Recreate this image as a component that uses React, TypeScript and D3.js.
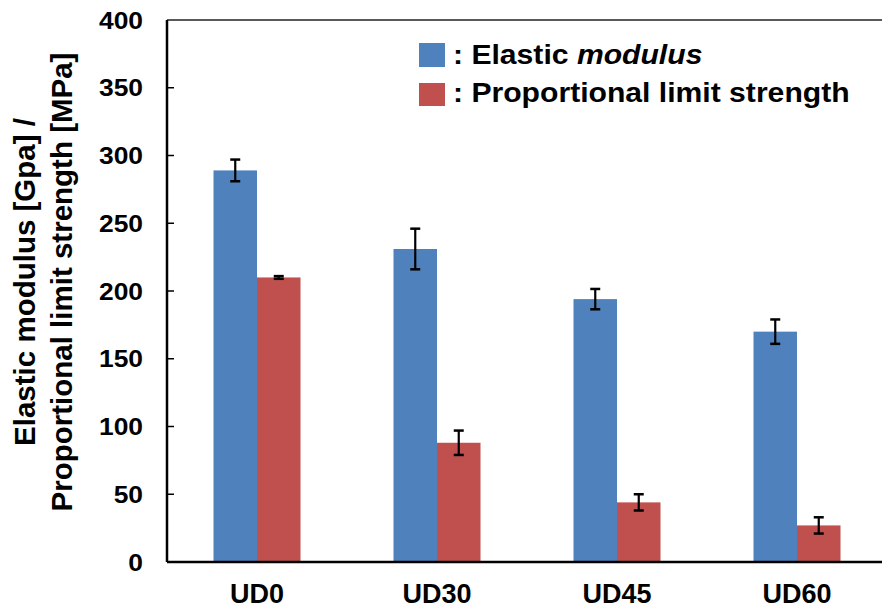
import React from "react";
import * as d3 from "d3";

const categories = ["UD0", "UD30", "UD45", "UD60"];
const seriesNames = ["Elastic modulus", "Proportional limit strength"];
const elasticValues = [289, 231, 194, 170];
const elasticErrors = [8, 15, 7.5, 9];
const strengthValues = [210, 88, 44, 27];
const strengthErrors = [1, 9, 6, 6];
const yTicks = [0, 50, 100, 150, 200, 250, 300, 350, 400];
const colors = ["#4F81BD", "#C0504D"];

const W = 882;
const H = 610;
const left = 167;
const right = 887;
const top = 20;
const bottom = 562;
const FONT = "'Liberation Sans', Arial, Helvetica, sans-serif";

export default function App() {
  const x0 = d3.scaleBand<string>().domain(categories).range([left, right]).padding(0);
  const groupW = 87;
  const x1 = d3.scaleBand<string>().domain(seriesNames).range([0, groupW]).padding(0);
  const y = d3.scaleLinear().domain([0, 400]).range([bottom, top]);
  const series = [
    { name: seriesNames[0], values: elasticValues, errors: elasticErrors, color: colors[0] },
    { name: seriesNames[1], values: strengthValues, errors: strengthErrors, color: colors[1] },
  ];
  const off = (x0.bandwidth() - groupW) / 2;
  return (
    <svg width={W} height={H} style={{ position: "absolute", left: 0, top: 0, background: "#fff" }}>
      <rect x={0} y={0} width={W} height={H} fill="#fff" />
      {series.map((s) =>
        categories.map((c, i) => {
          const bx = (x0(c) as number) + off + (x1(s.name) as number);
          const bw = x1.bandwidth();
          const v = s.values[i];
          const e = s.errors[i];
          const cx = bx + bw / 2;
          return (
            <g key={s.name + c}>
              <rect x={bx} y={y(v)} width={bw} height={y(0) - y(v)} fill={s.color} />
              <line x1={cx} x2={cx} y1={y(v + e)} y2={y(v - e)} stroke="#000" strokeWidth={2.2} />
              <line x1={cx - 5} x2={cx + 5} y1={y(v + e)} y2={y(v + e)} stroke="#000" strokeWidth={2.5} />
              <line x1={cx - 5} x2={cx + 5} y1={y(v - e)} y2={y(v - e)} stroke="#000" strokeWidth={2.5} />
            </g>
          );
        })
      )}
      {/* frame */}
      <line x1={left} x2={W} y1={top} y2={top} stroke="#222" strokeWidth={1.5} />
      <line x1={left} x2={left} y1={top} y2={bottom} stroke="#000" strokeWidth={2.5} />
      <line x1={left} x2={W} y1={bottom} y2={bottom} stroke="#000" strokeWidth={2.5} />
      {yTicks.map((t) => (
        <g key={t}>
          {t > 0 && t < 400 && (
            <line x1={left} x2={left + 7} y1={y(t)} y2={y(t)} stroke="#000" strokeWidth={1.5} />
          )}
          <g transform={`translate(143,${y(t) + 8.5}) scale(1.1,1)`}>
            <text x={0} y={0} textAnchor="end" fontFamily={FONT} fontWeight="bold" fontSize={24} fill="#000">
              {t}
            </text>
          </g>
        </g>
      ))}
      {categories.map((c) => (
        <text key={c} x={(x0(c) as number) + x0.bandwidth() / 2} y={603} textAnchor="middle" fontFamily={FONT} fontWeight="bold" fontSize={27} fill="#000">
          {c}
        </text>
      ))}
      <g transform="translate(35,282) rotate(-90)">
        <text x={0} y={0} textAnchor="middle" fontFamily={FONT} fontWeight="bold" fontSize={29.5} fill="#000">
          Elastic modulus [Gpa] /
        </text>
      </g>
      <g transform="translate(72,282) rotate(-90)">
        <text x={0} y={0} textAnchor="middle" fontFamily={FONT} fontWeight="bold" fontSize={29.5} fill="#000">
          Proportional limit strength [MPa]
        </text>
      </g>
      {/* legend */}
      <rect x={419} y={43} width={26} height={24} fill={colors[0]} />
      <g transform="translate(453,64) scale(1.076,1)">
        <text x={0} y={0} fontFamily={FONT} fontWeight="bold" fontSize={28} fill="#000">
          {": Elastic "}
          <tspan fontStyle="italic">modulus</tspan>
        </text>
      </g>
      <rect x={419} y={83} width={26} height={23} fill={colors[1]} />
      <g transform="translate(453,102) scale(1.076,1)">
        <text x={0} y={0} fontFamily={FONT} fontWeight="bold" fontSize={28} fill="#000">
          {": " + seriesNames[1]}
        </text>
      </g>
    </svg>
  );
}
